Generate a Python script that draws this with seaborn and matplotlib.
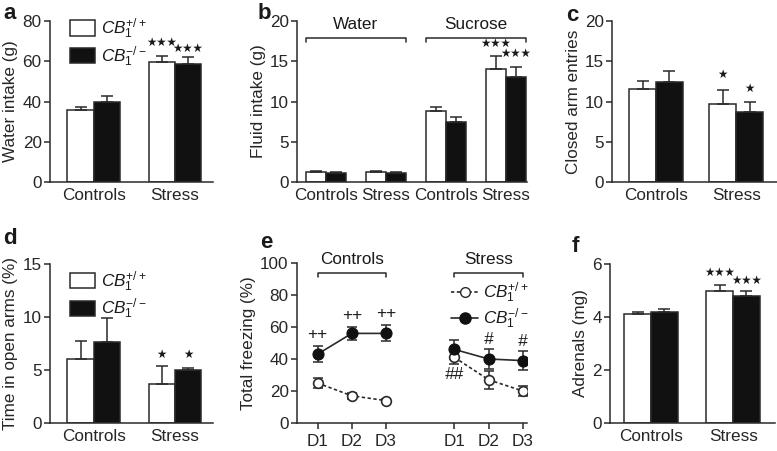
import numpy as np
import pandas as pd
import matplotlib
matplotlib.use("Agg")
import matplotlib.pyplot as plt
import seaborn as sns
from matplotlib.patches import Patch
from matplotlib.lines import Line2D

# ---- values (mean and sem) ----
genotypes = ["CB1+/+", "CB1-/-"]
groups = ["Controls", "Stress"]

# a: water intake (g)
water_wt = [35.8, 59.8]
water_wt_sem = [1.7, 2.8]
water_ko = [40.0, 58.5]
water_ko_sem = [2.5, 3.5]

# b: fluid intake (g)
fluid_groups = ["Water Controls", "Water Stress", "Sucrose Controls", "Sucrose Stress"]
fluid_labels = ["Controls", "Stress", "Controls", "Stress"]
fluid_wt = [1.3, 1.2, 8.8, 14.0]
fluid_wt_sem = [0.1, 0.15, 0.5, 1.6]
fluid_ko = [1.1, 1.1, 7.5, 13.1]
fluid_ko_sem = [0.1, 0.1, 0.6, 1.2]

# c: closed arm entries
closed_wt = [11.5, 9.7]
closed_wt_sem = [1.0, 1.7]
closed_ko = [12.4, 8.7]
closed_ko_sem = [1.4, 1.2]

# d: time in open arms (%)
open_wt = [6.0, 3.7]
open_wt_sem = [1.7, 1.7]
open_ko = [7.6, 5.0]
open_ko_sem = [2.3, 0.15]

# e: total freezing (%)
days = ["D1", "D2", "D3"]
freeze_ctrl_wt = [25, 17, 14]
freeze_ctrl_wt_sem = [3, 2, 1]
freeze_ctrl_ko = [43, 56, 56]
freeze_ctrl_ko_sem = [5, 4, 5]
freeze_str_wt = [41, 27, 20]
freeze_str_wt_sem = [4, 5.5, 3.4]
freeze_str_ko = [46, 40, 39]
freeze_str_ko_sem = [6, 6, 6]

# f: adrenals (mg)
adrenal_wt = [4.1, 5.0]
adrenal_wt_sem = [0.08, 0.2]
adrenal_ko = [4.2, 4.8]
adrenal_ko_sem = [0.1, 0.2]

EDGE = "#2a2a2a"
BLACK = "#111111"
FS = 12.3

sns.set_style("ticks")
plt.rcParams["font.family"] = ["Liberation Sans", "DejaVu Sans"]
plt.rcParams["mathtext.fontset"] = "custom"
plt.rcParams["mathtext.it"] = "Liberation Sans:italic"
plt.rcParams["mathtext.rm"] = "Liberation Sans"
plt.rcParams["text.color"] = "#1a1a1a"

wt_label = r"$\mathit{CB}_{\mathit{1}}^{+/+}$"
ko_label = r"$\mathit{CB}_{\mathit{1}}^{-/-}$"


def style_axes(ax, xtick_len=0):
    sns.despine(ax=ax)
    for s in ["left", "bottom"]:
        ax.spines[s].set_linewidth(1.1)
        ax.spines[s].set_color(EDGE)
    ax.tick_params(axis="y", length=4, width=1.1, color=EDGE, labelsize=FS, pad=2)
    ax.tick_params(axis="x", length=xtick_len, width=1.1, color=EDGE, labelsize=FS, pad=4)


def bar_panel(ax, cats, wt, wt_sem, ko, ko_sem, ylim, yticks, ylabel, width=0.65):
    df = pd.DataFrame({
        "group": cats * 2,
        "genotype": [genotypes[0]] * len(cats) + [genotypes[1]] * len(cats),
        "value": wt + ko,
    })
    sns.barplot(data=df, x="group", y="value", hue="genotype", order=cats,
                hue_order=genotypes, palette={genotypes[0]: "white", genotypes[1]: BLACK},
                edgecolor=EDGE, linewidth=1.1, width=width, errorbar=None,
                legend=False, ax=ax)
    x = np.arange(len(cats))
    half = width / 4
    tops = []
    for vals, sems, off in [(wt, wt_sem, -half), (ko, ko_sem, half)]:
        ax.errorbar(x + off, vals, yerr=[np.zeros(len(vals)), sems], fmt="none",
                    ecolor=EDGE, elinewidth=1.1, capsize=4, capthick=1.1, zorder=3)
        tops.append((x + off, np.array(vals) + np.array(sems)))
    ax.set_ylim(*ylim)
    ax.set_yticks(yticks)
    ax.set_ylabel(ylabel, fontsize=FS, labelpad=3)
    ax.set_xlabel("")
    style_axes(ax)
    return tops


def stars(ax, xs, ys, idx, n, pad):
    for i in idx:
        ax.text(xs[i], ys[i] + pad, "\u2605" * n, ha="center", va="bottom", fontsize=8.3,
                family="DejaVu Sans", color="#1a1a1a", clip_on=False)


fig = plt.figure(figsize=(7.77, 4.51), dpi=100)
W, H = 777, 451


def axes_px(l, t, r, b):
    return fig.add_axes([l / W, 1 - b / H, (r - l) / W, (b - t) / H])


# ---- a ----
ax = axes_px(50, 21, 213, 182)
tops = bar_panel(ax, groups, water_wt, water_wt_sem, water_ko, water_ko_sem,
                 (0, 80), [0, 20, 40, 60, 80], "Water intake (g)")
ax.set_xlim(-0.54, 1.47)
stars(ax, *tops[0], [1], 3, 3.5)
stars(ax, *tops[1], [1], 3, 1.0)
leg_handles = [Patch(facecolor="white", edgecolor=EDGE, linewidth=1.1, label=wt_label),
               Patch(facecolor=BLACK, edgecolor=EDGE, linewidth=1.1, label=ko_label)]
ax.legend(handles=leg_handles, loc="upper left", bbox_to_anchor=(0.08, 1.07), frameon=False,
          fontsize=FS, handlelength=1.5, handleheight=1.0, handletextpad=0.3,
          labelspacing=0.2, borderaxespad=0)

# ---- b ----
ax = axes_px(297, 21, 527, 182)
tops = bar_panel(ax, fluid_groups, fluid_wt, fluid_wt_sem, fluid_ko, fluid_ko_sem,
                 (0, 20), [0, 5, 10, 15, 20], "Fluid intake (g)", width=0.667)
ax.set_xticks(range(4))
ax.set_xticklabels(fluid_labels)
ax.set_xlim(-0.48, 3.35)
stars(ax, *tops[0], [3], 3, 0.8)
stars(ax, *tops[1], [3], 3, 0.9)
for x0, x1, lab in [(-0.333, 1.333, "Water"), (1.667, 3.333, "Sucrose")]:
    ax.plot([x0, x0, x1, x1], [17.4, 17.9, 17.9, 17.4], color=EDGE, lw=1.1, clip_on=False)
    ax.text((x0 + x1) / 2, 18.6, lab, ha="center", va="bottom", fontsize=FS)

# ---- c ----
ax = axes_px(612, 21, 777, 182)
tops = bar_panel(ax, groups, closed_wt, closed_wt_sem, closed_ko, closed_ko_sem,
                 (0, 20), [0, 5, 10, 15, 20], "Closed arm entries", width=0.67)
ax.set_xlim(-0.55, 1.51)
stars(ax, *tops[0], [1], 1, 1.1)
stars(ax, *tops[1], [1], 1, 0.9)

# ---- d ----
ax = axes_px(50, 264, 213, 423)
tops = bar_panel(ax, groups, open_wt, open_wt_sem, open_ko, open_ko_sem,
                 (0, 15), [0, 5, 10, 15], "Time in open arms (%)")
ax.set_xlim(-0.54, 1.47)
stars(ax, *tops[0], [1], 1, 0.5)
stars(ax, *tops[1], [1], 1, 0.7)
ax.legend(handles=leg_handles, loc="upper left", bbox_to_anchor=(0.08, 1.01), frameon=False,
          fontsize=FS, handlelength=1.5, handleheight=1.0, handletextpad=0.3,
          labelspacing=0.2, borderaxespad=0)

# ---- e ----
ax = axes_px(297, 263, 527, 423)
xpos_ctrl = [0, 1, 2]
xpos_str = [4, 5, 6]
series = [
    (xpos_ctrl, freeze_ctrl_wt, freeze_ctrl_wt_sem, "wt"),
    (xpos_ctrl, freeze_ctrl_ko, freeze_ctrl_ko_sem, "ko"),
    (xpos_str, freeze_str_wt, freeze_str_wt_sem, "wt"),
    (xpos_str, freeze_str_ko, freeze_str_ko_sem, "ko"),
]
for xs, ys, es, g in series:
    ax.errorbar(xs, ys, yerr=es, fmt="none", ecolor=EDGE, elinewidth=1.1, capsize=3.5,
                capthick=1.1, zorder=2)
    if g == "wt":
        sns.lineplot(x=xs, y=ys, ax=ax, color=EDGE, lw=1.2, linestyle=(0, (2, 1.5)),
                     marker="o", markersize=7, markerfacecolor="white",
                     markeredgecolor=EDGE, markeredgewidth=1.2, zorder=3)
    else:
        sns.lineplot(x=xs, y=ys, ax=ax, color=EDGE, lw=1.2, marker="o", markersize=8,
                     markerfacecolor=BLACK, markeredgecolor=BLACK, zorder=4)
ax.set_xlim(-0.6, 6.12)
ax.set_ylim(0, 100)
ax.set_yticks([0, 20, 40, 60, 80, 100])
ax.set_xticks(xpos_ctrl + xpos_str)
ax.set_xticklabels(days + days)
ax.set_ylabel("Total freezing (%)", fontsize=FS, labelpad=3)
style_axes(ax, xtick_len=4)
# significance marks
ctrl_ko_top = np.array(freeze_ctrl_ko) + np.array(freeze_ctrl_ko_sem)
for i in range(3):
    ax.text(xpos_ctrl[i], ctrl_ko_top[i] + 2.5, "++", ha="center", va="bottom", fontsize=FS)
str_ko_top = np.array(freeze_str_ko) + np.array(freeze_str_ko_sem)
for i in [1, 2]:
    ax.text(xpos_str[i], str_ko_top[i] + 1.5, "#", ha="center", va="bottom", fontsize=FS,
            style="italic")
ax.text(xpos_str[0], freeze_str_wt[0] - freeze_str_wt_sem[0] - 2, "##", ha="center",
        va="top", fontsize=FS, style="italic")
for x0, x1, lab in [(0, 2, "Controls"), (4, 6, "Stress")]:
    ax.plot([x0, x0, x1, x1], [91, 94, 94, 91], color=EDGE, lw=1.1, clip_on=False)
    ax.text((x0 + x1) / 2, 97.5, lab, ha="center", va="bottom", fontsize=FS)
line_handles = [
    Line2D([0], [0], color=EDGE, lw=1.2, linestyle=(0, (2, 1.5)), marker="o", markersize=7,
           markerfacecolor="white", markeredgecolor=EDGE, label=wt_label),
    Line2D([0], [0], color=EDGE, lw=1.2, marker="o", markersize=8,
           markerfacecolor=BLACK, markeredgecolor=BLACK, label=ko_label),
]
ax.legend(handles=line_handles, loc="upper left", bbox_to_anchor=(0.64, 0.93), frameon=False,
          fontsize=FS, handlelength=1.6, handletextpad=0.3, labelspacing=0.05,
          borderaxespad=0)

# ---- f ----
ax = axes_px(610, 264, 775, 423)
tops = bar_panel(ax, groups, adrenal_wt, adrenal_wt_sem, adrenal_ko, adrenal_ko_sem,
                 (0, 6), [0, 2, 4, 6], "Adrenals (mg)")
ax.set_xlim(-0.5, 1.51)
stars(ax, *tops[0], [1], 3, 0.25)
stars(ax, *tops[1], [1], 3, 0.15)

# ---- panel letters ----
for lab, x, y in [("a", 3, 3), ("b", 258, 3), ("c", 566, 5),
                  ("d", 3, 228), ("e", 260, 232), ("f", 572, 236)]:
    fig.text(x / W, 1 - y / H, lab, fontsize=16, fontweight="bold", ha="left", va="top")

fig.savefig("out.png", dpi=100)
